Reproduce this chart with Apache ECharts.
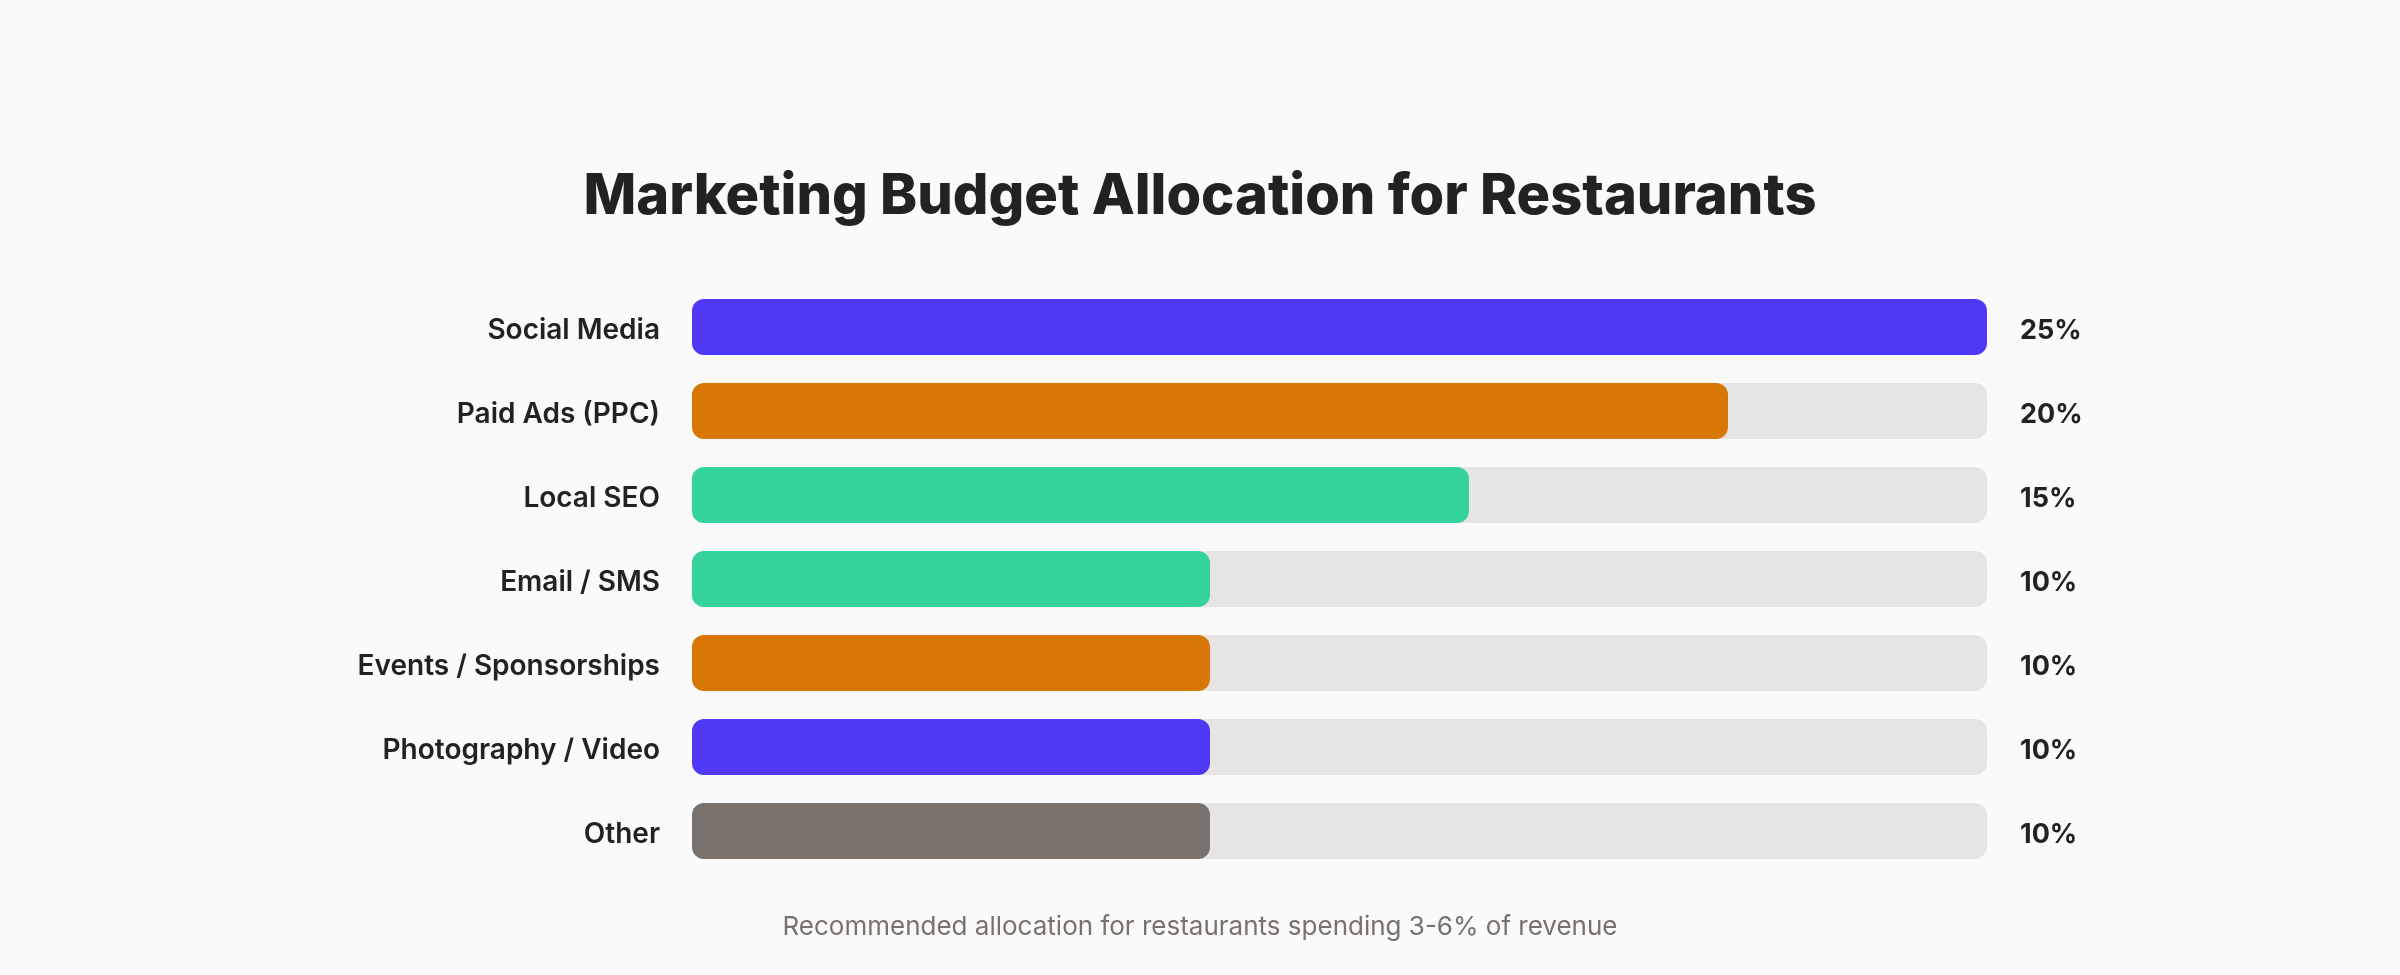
<!DOCTYPE html>
<html>
<head>
	<meta charset="utf-8">
	<title>Marketing Budget Allocation for Restaurants</title>
	<style>
		html,body{margin:0;padding:0;background:#fafafa;}
		#main{width:2400px;height:975px;}
	</style>
</head>
<body>
	<div id="main"></div>
<script type="text/javascript" src="https://cdn.jsdelivr.net/npm/echarts@6/dist/echarts.min.js"></script>
<script type="text/javascript">
	// 数据
	var categories = ['Social Media','Paid Ads (PPC)','Local SEO','Email / SMS','Events / Sponsorships','Photography / Video','Other'];
	var shares = [25,20,15,10,10,10,10];
	var barColors = ['#4f39f6','#d97706','#34d399','#34d399','#d97706','#4f39f6','#78716c'];
	var axisMax = 25;

	var myChart = echarts.init(document.getElementById('main'));
	var fontFamily = 'Inter, "Noto Sans", sans-serif';

	var barData = [];
	for(var i=0;i<shares.length;i++){
		barData.push({value:shares[i],itemStyle:{color:barColors[i]}});
	}

	var option = {
		backgroundColor:'#fafafa',
		title:[
			{
				text:'Marketing Budget Allocation for Restaurants',
				left:'center',
				top:164,
				textStyle:{fontFamily:fontFamily,fontSize:56,fontWeight:800,color:'#222222'}
			},
			{
				text:'Recommended allocation for restaurants spending 3-6% of revenue',
				left:'center',
				top:909,
				textStyle:{fontFamily:fontFamily,fontSize:26,fontWeight:400,color:'#78716c'}
			}
		],
		grid:{left:692,right:413,top:285,height:588},
		xAxis:{
			type:'value',
			min:0,
			max:axisMax,
			show:false
		},
		yAxis:[
			{
				type:'category',
				inverse:true,
				data:categories,
				axisLine:{show:false},
				axisTick:{show:false},
				axisLabel:{margin:32,fontFamily:fontFamily,fontSize:28,fontWeight:600,color:'#222222',verticalAlign:'top',lineHeight:8}
			},
			{
				type:'category',
				inverse:true,
				position:'right',
				data:shares,
				axisLine:{show:false},
				axisTick:{show:false},
				axisLabel:{
					margin:33,
					fontFamily:fontFamily,
					fontSize:27,
					fontWeight:700,
					color:'#222222',
					verticalAlign:'top',
					lineHeight:8,
					formatter:function(v){return v+'%';}
				}
			}
		],
		series:[
			{
				type:'bar',
				data:barData,
				barWidth:56,
				showBackground:true,
				backgroundStyle:{color:'#e7e5e4',borderRadius:12},
				itemStyle:{borderRadius:12},
				silent:true
			}
		]
	};
	myChart.setOption(option);
</script>
</body>
</html>
